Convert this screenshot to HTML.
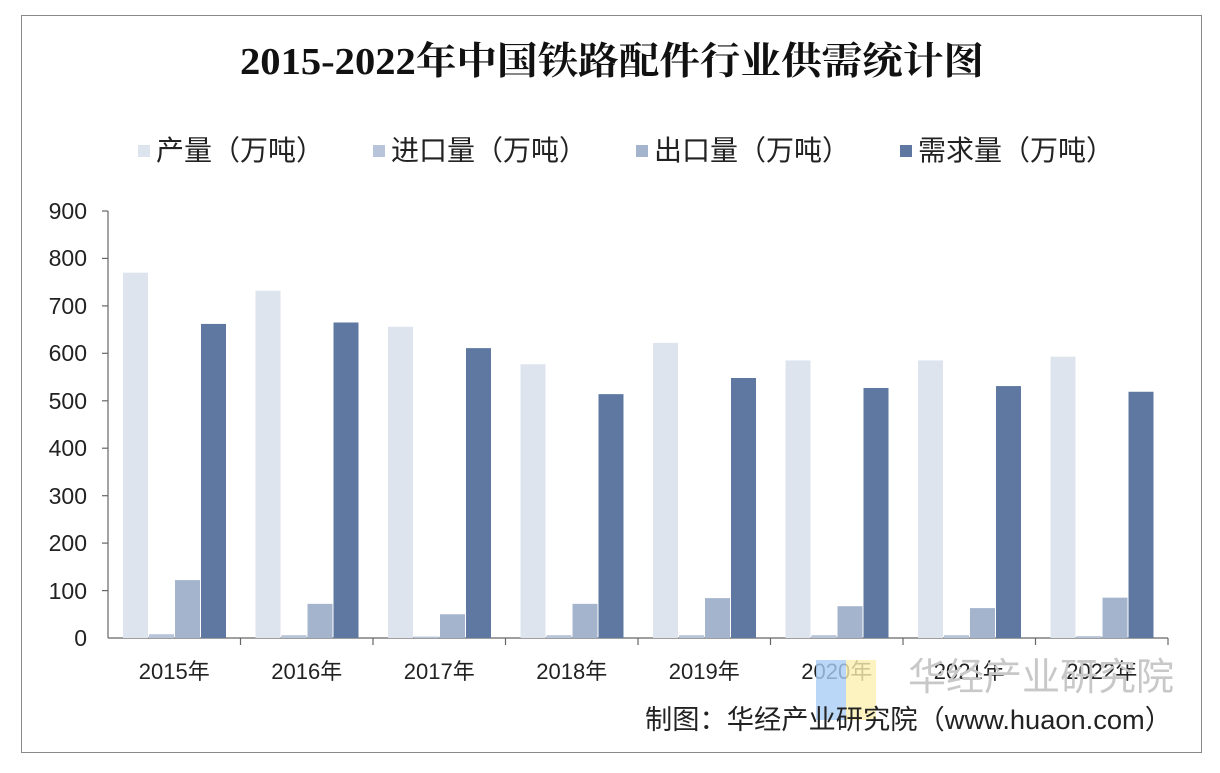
<!DOCTYPE html>
<html><head><meta charset="utf-8"><style>
html,body{margin:0;padding:0;background:#fff;}
svg text{font-family:"Liberation Sans","Noto Sans CJK SC",sans-serif;}
</style></head><body>
<svg width="1220" height="768" xmlns="http://www.w3.org/2000/svg">
<rect x="0" y="0" width="1220" height="768" fill="#fff"/>
<rect x="21.5" y="15.5" width="1180" height="737" fill="none" stroke="#888" stroke-width="1"/>
<text x="612" y="74" font-size="38" font-weight="bold" text-anchor="middle" fill="#111" textLength="744" lengthAdjust="spacingAndGlyphs" style="font-family:'Liberation Serif','Noto Serif CJK SC',serif">2015-2022年中国铁路配件行业供需统计图</text>
<g font-size="28" fill="#222">
<rect x="138" y="145" width="12" height="12" fill="#dde4ee"/><text x="156" y="160">产量（万吨）</text>
<rect x="373" y="145" width="12" height="12" fill="#b7c4d9"/><text x="391" y="160">进口量（万吨）</text>
<rect x="636" y="145" width="12" height="12" fill="#a3b4cc"/><text x="654" y="160">出口量（万吨）</text>
<rect x="900" y="145" width="12" height="12" fill="#5e78a2"/><text x="918" y="160">需求量（万吨）</text>
</g>
<g font-size="23" fill="#222" text-anchor="end">
<text x="87" y="646">0</text><text x="87" y="599">100</text><text x="87" y="551">200</text><text x="87" y="504">300</text><text x="87" y="456">400</text><text x="87" y="409">500</text><text x="87" y="361">600</text><text x="87" y="314">700</text><text x="87" y="266">800</text><text x="87" y="219">900</text>
</g>
<g stroke="#666" stroke-width="1.2">
<line x1="108" y1="211" x2="108" y2="638"/>
<line x1="102" y1="211" x2="108" y2="211"/><line x1="102" y1="258.4" x2="108" y2="258.4"/><line x1="102" y1="305.9" x2="108" y2="305.9"/><line x1="102" y1="353.3" x2="108" y2="353.3"/><line x1="102" y1="400.8" x2="108" y2="400.8"/><line x1="102" y1="448.2" x2="108" y2="448.2"/><line x1="102" y1="495.7" x2="108" y2="495.7"/><line x1="102" y1="543.1" x2="108" y2="543.1"/><line x1="102" y1="590.6" x2="108" y2="590.6"/>
<line x1="108" y1="638" x2="1168" y2="638"/>
</g>
<g id="bars"></g>
<g stroke="#666" stroke-width="1.2" id="ticks"></g>
<g font-size="22" fill="#222" text-anchor="middle" id="labels"></g>
<text x="1041" y="690" font-size="38" fill="#c8c8c8" text-anchor="middle">华经产业研究院</text>
<rect x="816" y="660" width="30" height="60" fill="#a9cdf5" opacity="0.8"/>
<rect x="846" y="660" width="30" height="60" fill="#fbf0b0" opacity="0.8"/>
<text x="1172" y="729" font-size="27" fill="#222" text-anchor="end" textLength="527" lengthAdjust="spacingAndGlyphs">制图：华经产业研究院（www.huaon.com）</text>
</svg>
<script>
var d=[[770,8,122,662],[732,6,72,665],[656,3,50,611],[577,6,72,514],[622,6,84,548],[585,6,67,527],[585,6,63,531],[593,4,85,519]];
var c=["#dde4ee","#b7c4d9","#a3b4cc","#5e78a2"],ns="http://www.w3.org/2000/svg";
var b=document.getElementById("bars"),t=document.getElementById("ticks"),l=document.getElementById("labels");
var gw=132.5,k=427/900;
d.forEach(function(v,i){var x0=108+i*gw;
v.forEach(function(val,j){var r=document.createElementNS(ns,"rect");var h=val*k;
r.setAttribute("x",x0+15+j*26);r.setAttribute("y",638-h);r.setAttribute("width",25);r.setAttribute("height",h);r.setAttribute("fill",c[j]);b.appendChild(r);});
var ln=document.createElementNS(ns,"line");ln.setAttribute("x1",x0+gw);ln.setAttribute("x2",x0+gw);ln.setAttribute("y1",638);ln.setAttribute("y2",645);t.appendChild(ln);
var tx=document.createElementNS(ns,"text");tx.setAttribute("x",x0+gw/2);tx.setAttribute("y",679);tx.textContent=(2015+i)+"年";l.appendChild(tx);});
</script>
</body></html>
